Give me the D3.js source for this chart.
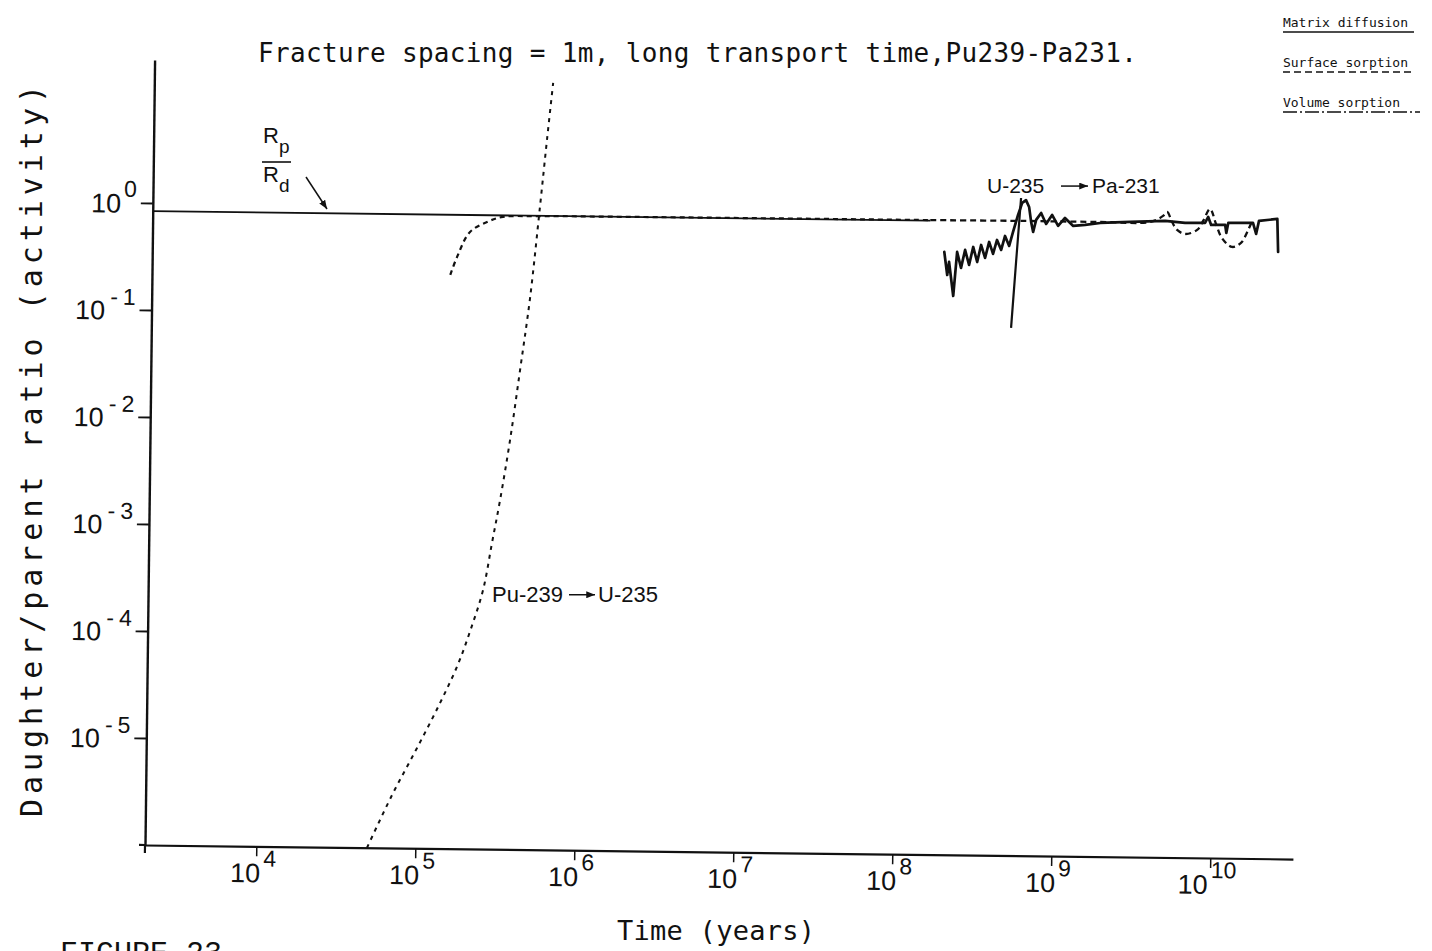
<!DOCTYPE html>
<html>
<head>
<meta charset="utf-8">
<script src="https://cdn.jsdelivr.net/npm/d3@7"></script>
<style>
  html, body { margin: 0; padding: 0; background: #fff; }
  svg { display: block; }
  text { fill: #111; }
</style>
</head>
<body>
<svg id="chart" width="1432" height="951"></svg>
<script>
// Decades marked on each axis
const xTickExps = [4, 5, 6, 7, 8, 9, 10];
const yTickExps = [0, -1, -2, -3, -4, -5];

// Rp/Rd reference level
const rpRdTime  = [2.0e3, 1.55e8];
const rpRdRatio = [0.84, 0.84];

// Pu-239 -> U-235, ingrowth curve (steep)
const puUTime  = [4.97e4, 7.08e4, 1.007e5, 1.396e5, 1.799e5, 2.16e5, 2.549e5, 2.877e5,
                  3.21e5, 3.67e5, 4.19e5, 4.78e5, 5.43e5, 5.94e5, 6.43e5];
const puURatio = [1.0e-6, 3.13e-6, 8.65e-6, 2.30e-5, 5.33e-5, 1.16e-4, 2.64e-4, 7.28e-4,
                  1.84e-3, 6.71e-3, 3.03e-2, 0.143, 1.02, 4.32, 14.7];

// Pu-239 -> U-235, curve approaching the Rp/Rd plateau
const puUPlateauTime  = [1.50e5, 1.65e5, 1.98e5, 2.53e5, 3.18e5, 4.92e5, 1.30e6, 1.55e8];
const puUPlateauRatio = [0.230, 0.340, 0.583, 0.726, 0.813, 0.834, 0.84, 0.85];

// U-235 -> Pa-231, dashed curve
const uPaDashTime  = [1.55e8, 6.12e8, 1.82e9, 3.74e9, 4.51e9, 4.78e9, 5.14e9, 5.54e9, 6.22e9,
                      7.40e9, 8.06e9, 8.89e9, 9.72e9, 1.06e10, 1.23e10, 1.40e10, 1.53e10, 1.64e10];
const uPaDashRatio = [0.85, 0.855, 0.854, 0.865, 0.988, 1.077, 0.870, 0.733, 0.674,
                      0.737, 0.896, 1.162, 0.843, 0.625, 0.516, 0.564, 0.716, 0.908];

// U-235 -> Pa-231, solid (oscillating) curve
const uPaSolidTime  = [1.91e8, 2.00e8, 2.05e8, 2.19e8, 2.30e8, 2.44e8, 2.58e8, 2.74e8, 2.90e8, 3.08e8,
                       3.25e8, 3.45e8, 3.65e8, 3.87e8, 4.09e8, 4.35e8, 4.59e8, 4.88e8, 5.15e8, 5.52e8,
                       5.85e8, 6.18e8, 6.47e8, 6.68e8, 6.89e8, 7.18e8, 7.71e8, 8.30e8, 9.04e8, 9.88e8,
                       1.09e9, 1.23e9, 1.46e9, 1.82e9, 2.80e9, 4.65e9, 6.21e9, 8.29e9, 8.67e9, 9.06e9,
                       1.11e10, 1.13e10, 1.16e10, 1.66e10, 1.74e10, 1.81e10, 2.36e10, 2.40e10];
const uPaSolidRatio = [0.430, 0.262, 0.347, 0.167, 0.431, 0.306, 0.451, 0.327, 0.482, 0.349,
                       0.504, 0.382, 0.539, 0.417, 0.564, 0.455, 0.616, 0.497, 0.673, 0.971,
                       1.26, 1.34, 1.157, 0.839, 0.676, 0.877, 1.02, 0.806, 0.980, 0.775,
                       0.922, 0.778, 0.797, 0.835, 0.861, 0.887, 0.855, 0.859, 0.978, 0.824,
                       0.827, 0.697, 0.864, 0.870, 0.687, 0.910, 0.954, 0.469];

// U-235 -> Pa-231, sharp drop near 5e8 years
const uPaSpikeTime  = [5.75e8, 5.41e8, 5.09e8];
const uPaSpikeRatio = [1.40, 0.353, 0.0853];

// Legend entries
const legendLabels = ["Matrix diffusion", "Surface sorption", "Volume sorption"];

const FONT = "'Liberation Sans', Arial, sans-serif";
const MONO = "'DejaVu Sans Mono', 'Liberation Mono', monospace";
const svg = d3.select("#chart");

const x = d3.scaleLog().domain([10 ** 3.3, 10 ** 10.52]).range([145, 1293]);
const y = d3.scaleLog().domain([1e-6, 10 ** 1.336]).range([845, 60]);

const pts = (t, r) => t.map((v, i) => [v, r[i]]);
const line = d3.line().x(d => x(d[0])).y(d => y(d[1]));
const smooth = d3.line().x(d => x(d[0])).y(d => y(d[1])).curve(d3.curveCatmullRom.alpha(0.5));

const defs = svg.append("defs");
defs.append("marker").attr("id", "head")
  .attr("viewBox", "0 0 10 8").attr("refX", 10).attr("refY", 4)
  .attr("markerWidth", 9).attr("markerHeight", 7)
  .attr("markerUnits", "userSpaceOnUse").attr("orient", "auto")
  .append("path").attr("d", "M0,0L10,4L0,8Z").attr("fill", "#111");

// Plot body, drawn slightly tilted as on the original plotter sheet
const g = svg.append("g").attr("transform", "rotate(0.7,145,845)");

// X axis
const xAxis = g.append("g").attr("transform", "translate(0,845)")
  .call(d3.axisBottom(x).tickValues(xTickExps.map(e => 10 ** e))
    .tickFormat("").tickSize(10).tickSizeOuter(0));
xAxis.select(".domain").attr("stroke", "#111").attr("stroke-width", 2.2);
xAxis.selectAll(".tick line").attr("stroke", "#111").attr("stroke-width", 1.5);

// Y axis
const yAxis = g.append("g").attr("transform", "translate(145,0)")
  .call(d3.axisLeft(y).tickValues(yTickExps.map(e => 10 ** e))
    .tickFormat("").tickSize(12).tickSizeOuter(0));
yAxis.select(".domain").attr("stroke", "#111").attr("stroke-width", 2.4);
yAxis.selectAll(".tick line").attr("stroke", "#111").attr("stroke-width", 1.8);
g.append("line").attr("x1", 145).attr("x2", 145).attr("y1", 845).attr("y2", 853)
  .attr("stroke", "#111").attr("stroke-width", 2.2);
g.append("line").attr("x1", 139).attr("x2", 145).attr("y1", 845).attr("y2", 845)
  .attr("stroke", "#111").attr("stroke-width", 2.2);

// Power-of-ten tick labels
function powerText(sel, e) {
  sel.append("tspan").text("10");
  if (e < 0) {
    sel.append("tspan").attr("dx", 5).attr("dy", -15).style("font-size", "23px").text("-");
    sel.append("tspan").attr("dx", 5).style("font-size", "23px").text(String(-e));
  } else {
    sel.append("tspan").attr("dx", 3).attr("dy", -16).style("font-size", "23px").text(String(e));
  }
}

xTickExps.forEach(e => {
  const t = g.append("text")
    .attr("x", x(10 ** e) - 3).attr("y", 845 + 36)
    .attr("text-anchor", "middle")
    .style("font-family", FONT).style("font-size", "27px");
  powerText(t, e);
});

yTickExps.forEach(e => {
  const t = g.append("text")
    .attr("x", 145 - 16).attr("y", y(10 ** e) + 10)
    .attr("text-anchor", "end")
    .style("font-family", FONT).style("font-size", "27px");
  powerText(t, e);
});

// Curves
g.append("path").datum(pts(rpRdTime, rpRdRatio)).attr("d", line)
  .attr("fill", "none").attr("stroke", "#111").attr("stroke-width", 1.8);

g.append("path").datum(pts(puUTime, puURatio)).attr("d", smooth)
  .attr("fill", "none").attr("stroke", "#111").attr("stroke-width", 2)
  .attr("stroke-dasharray", "4,5");

g.append("path").datum(pts(puUPlateauTime, puUPlateauRatio)).attr("d", smooth)
  .attr("fill", "none").attr("stroke", "#111").attr("stroke-width", 2.2)
  .attr("stroke-dasharray", "5,4");

g.append("path").datum(pts(uPaDashTime, uPaDashRatio)).attr("d", smooth)
  .attr("fill", "none").attr("stroke", "#111").attr("stroke-width", 2.3)
  .attr("stroke-dasharray", "6,4");

g.append("path").datum(pts(uPaSolidTime, uPaSolidRatio)).attr("d", line)
  .attr("fill", "none").attr("stroke", "#111").attr("stroke-width", 2.7)
  .attr("stroke-linejoin", "round").attr("stroke-linecap", "round");

g.append("path").datum(pts(uPaSpikeTime, uPaSpikeRatio)).attr("d", line)
  .attr("fill", "none").attr("stroke", "#111").attr("stroke-width", 2.2);

// Axis titles
svg.append("text")
  .attr("transform", "translate(42,451) rotate(-90)")
  .attr("text-anchor", "middle")
  .attr("textLength", 732).attr("lengthAdjust", "spacing")
  .style("font-family", MONO).style("font-size", "30px")
  .text("Daughter/parent ratio (activity)");

svg.append("text")
  .attr("x", 716).attr("y", 940).attr("text-anchor", "middle")
  .attr("textLength", 198).attr("lengthAdjust", "spacing")
  .style("font-family", MONO).style("font-size", "27px")
  .text("Time (years)");

// Title
svg.append("text")
  .attr("x", 258).attr("y", 62)
  .attr("textLength", 879).attr("lengthAdjust", "spacing")
  .style("font-family", MONO).style("font-size", "26px")
  .text("Fracture spacing = 1m, long transport time,Pu239-Pa231.");

// Figure caption (runs off the bottom of the sheet)
svg.append("text")
  .attr("x", 60).attr("y", 962)
  .style("font-family", "'Liberation Mono', 'Courier New', monospace").style("font-size", "30px")
  .text("FIGURE 23");

// Legend
const legendY = [27, 67, 107];
const legendDash = [null, "7,4", "14,3,2,3"];
const legendLen = [125, 125, 117];
const legendLineEnd = [1414, 1411, 1420];
legendLabels.forEach((lab, i) => {
  svg.append("text")
    .attr("x", 1283).attr("y", legendY[i])
    .attr("textLength", legendLen[i]).attr("lengthAdjust", "spacing")
    .style("font-family", MONO).style("font-size", "13px")
    .text(lab);
  svg.append("line")
    .attr("x1", 1283).attr("x2", legendLineEnd[i])
    .attr("y1", legendY[i] + 5).attr("y2", legendY[i] + 5)
    .attr("stroke", "#111").attr("stroke-width", 1.6)
    .attr("stroke-dasharray", legendDash[i]);
});

// Rp/Rd annotation
const rp = svg.append("text").attr("x", 263).attr("y", 143)
  .style("font-family", FONT).style("font-size", "22px");
rp.append("tspan").text("R");
rp.append("tspan").attr("dy", 10).style("font-size", "19px").text("p");
svg.append("line").attr("x1", 262).attr("x2", 291).attr("y1", 162).attr("y2", 162)
  .attr("stroke", "#111").attr("stroke-width", 1.6);
const rd = svg.append("text").attr("x", 263).attr("y", 182)
  .style("font-family", FONT).style("font-size", "22px");
rd.append("tspan").text("R");
rd.append("tspan").attr("dy", 10).style("font-size", "19px").text("d");
svg.append("line").attr("x1", 306).attr("y1", 177).attr("x2", 327).attr("y2", 209)
  .attr("stroke", "#111").attr("stroke-width", 1.5).attr("marker-end", "url(#head)");

// Decay chain labels
function chainLabel(parent, daughter, x0, base, size, a1, a2, x2) {
  svg.append("text").attr("x", x0).attr("y", base)
    .style("font-family", FONT).style("font-size", size + "px").text(parent);
  svg.append("line").attr("x1", a1).attr("x2", a2)
    .attr("y1", base - size * 0.33).attr("y2", base - size * 0.33)
    .attr("stroke", "#111").attr("stroke-width", 1.5).attr("marker-end", "url(#head)");
  svg.append("text").attr("x", x2).attr("y", base)
    .style("font-family", FONT).style("font-size", size + "px").text(daughter);
}
chainLabel("U-235", "Pa-231", 987, 193, 21, 1061, 1088, 1092);
chainLabel("Pu-239", "U-235", 492, 602, 22, 569, 595, 598);
</script>
</body>
</html>
